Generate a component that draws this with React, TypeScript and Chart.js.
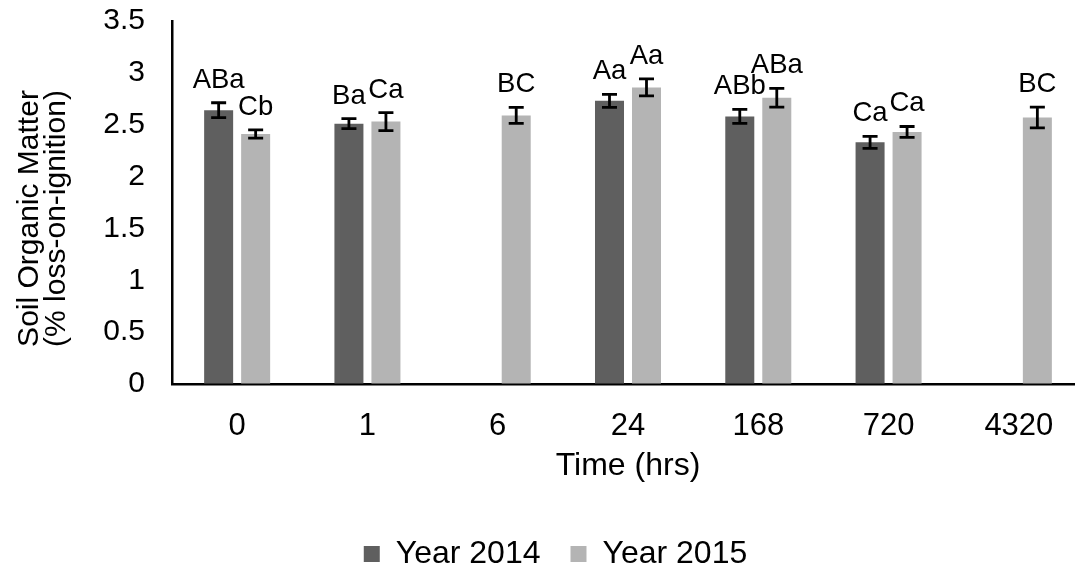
import React, { useEffect, useRef } from 'react';
import { Chart, registerables } from 'chart.js';

Chart.register(...registerables);

const categories = ['0', '1', '6', '24', '168', '720', '4320'];
const year2014 = [2.64, 2.51, null, 2.73, 2.58, 2.33, null];
const year2014Err = [0.072, 0.048, null, 0.062, 0.067, 0.058, null];
const year2015 = [2.41, 2.53, 2.59, 2.86, 2.76, 2.43, 2.57];
const year2015Err = [0.04, 0.087, 0.077, 0.082, 0.091, 0.053, 0.1];
const letters2014 = ['ABa', 'Ba', '', 'Aa', 'ABb', 'Ca', ''];
const letters2015 = ['Cb', 'Ca', 'BC', 'Aa', 'ABa', 'Ca', 'BC'];
const yTitleLines = ['Soil Organic Matter', '(% loss-on-ignition)'];
const xTitle = 'Time (hrs)';
const yMin = 0;
const yMax = 3.5;
const yStep = 0.5;

const FAMILY = '"Liberation Sans", Arial, sans-serif';

export default function App() {
  const ref = useRef<HTMLCanvasElement>(null);

  useEffect(() => {
    const canvas = ref.current;
    if (!canvas) return;

    const errorPlugin = {
      id: 'errorBarsAndLetters',
      afterDatasetsDraw(chart: any) {
        const ctx = chart.ctx;
        const ys = chart.scales.y;
        const sets = [
          { v: year2014, e: year2014Err, t: letters2014 },
          { v: year2015, e: year2015Err, t: letters2015 },
        ];
        sets.forEach((s, i) => {
          const meta = chart.getDatasetMeta(i);
          meta.data.forEach((bar: any, j: number) => {
            const v = s.v[j];
            if (v == null) return;
            const e = s.e[j] ?? 0;
            const x = bar.x;
            const top = ys.getPixelForValue(v + e);
            const bot = ys.getPixelForValue(v - e);
            ctx.save();
            ctx.strokeStyle = '#000';
            ctx.lineWidth = 2.8;
            ctx.beginPath();
            ctx.moveTo(x, top);
            ctx.lineTo(x, bot);
            ctx.moveTo(x - 7.5, top);
            ctx.lineTo(x + 7.5, top);
            ctx.moveTo(x - 7.5, bot);
            ctx.lineTo(x + 7.5, bot);
            ctx.stroke();
            ctx.fillStyle = '#000';
            ctx.font = `27.5px ${FAMILY}`;
            ctx.textAlign = 'center';
            ctx.textBaseline = 'alphabetic';
            ctx.fillText(s.t[j], x, top - 15);
            ctx.restore();
          });
        });
        // y-axis title (two lines, rotated)
        const area = chart.chartArea;
        ctx.save();
        ctx.fillStyle = '#000';
        ctx.font = `30px ${FAMILY}`;
        ctx.textAlign = 'center';
        ctx.textBaseline = 'middle';
        const cy = (area.top + area.bottom) / 2 + 16;
        const xs = [30, 57];
        yTitleLines.forEach((line, k) => {
          ctx.save();
          ctx.translate(xs[k], cy);
          ctx.rotate(-Math.PI / 2);
          ctx.fillText(line, 0, 0);
          ctx.restore();
        });
        ctx.restore();
      },
    };

    const chart = new Chart(canvas, {
      type: 'bar',
      data: {
        labels: categories,
        datasets: [
          {
            label: 'Year 2014',
            data: year2014 as any,
            backgroundColor: '#5f5f5f',
            borderWidth: 0,
            barPercentage: 0.784,
            categoryPercentage: 0.568,
          },
          {
            label: 'Year 2015',
            data: year2015 as any,
            backgroundColor: '#b4b4b4',
            borderWidth: 0,
            barPercentage: 0.784,
            categoryPercentage: 0.568,
          },
        ],
      },
      options: {
        animation: false,
        responsive: false,
        maintainAspectRatio: false,
        devicePixelRatio: 1,
        layout: { padding: { left: 0, right: 0, top: 20, bottom: 0 } },
        plugins: {
          legend: {
            position: 'bottom',
            labels: {
              font: { family: FAMILY, size: 32 },
              color: '#000',
              boxWidth: 16,
              boxHeight: 16,
              padding: 30,
            },
          },
          tooltip: { enabled: false },
        },
        scales: {
          x: {
            grid: { display: true, drawOnChartArea: false, drawTicks: false },
            border: { color: '#000', width: 2.5 },
            ticks: { font: { family: FAMILY, size: 31 }, color: '#000', padding: 24 },
            title: {
              display: true,
              text: xTitle,
              font: { family: FAMILY, size: 32 },
              color: '#000',
              padding: { top: 0, bottom: 22.8 },
            },
            afterFit: (s: any) => {
              s.height = 124;
            },
          },
          y: {
            min: yMin,
            max: yMax,
            grid: {
              display: true,
              drawOnChartArea: false,
              drawTicks: true,
              tickLength: 24,
              tickColor: 'rgba(0,0,0,0)',
            },
            border: { color: '#000', width: 2.5 },
            ticks: {
              stepSize: yStep,
              font: { family: FAMILY, size: 30 },
              color: '#000',
              padding: 3,
              callback: (v: any) => String(Number(v)),
            },
            title: { display: false },
            afterFit: (s: any) => {
              s.width = 172;
            },
          },
          y2: {
            position: 'right',
            display: true,
            grid: { display: false },
            border: { display: false },
            ticks: { display: false },
            afterFit: (s: any) => {
              s.width = 27;
            },
          },
        },
      } as any,
      plugins: [errorPlugin],
    });

    return () => chart.destroy();
  }, []);

  return (
    <div
      style={{
        position: 'fixed',
        left: 0,
        top: 0,
        width: 1075,
        height: 571,
        overflow: 'hidden',
        background: '#fff',
      }}
    >
      <canvas ref={ref} width={1111} height={580} style={{ display: 'block', width: 1111, height: 580 }} />
    </div>
  );
}
